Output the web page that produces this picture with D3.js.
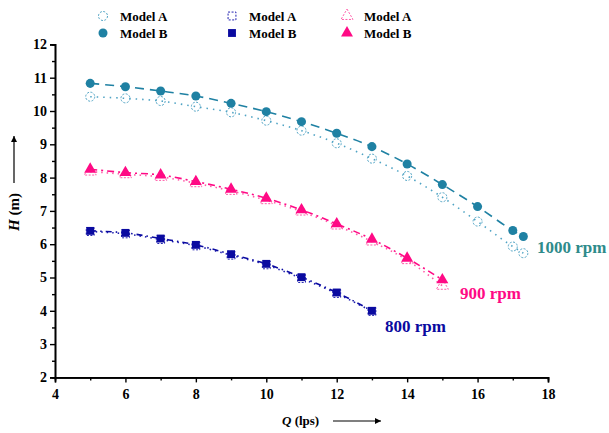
<!DOCTYPE html>
<html>
<head>
<meta charset="utf-8">
<script src="https://cdn.jsdelivr.net/npm/d3@7"></script>
<style>
  body { margin: 0; background: #fff; }
  text { font-family: "Liberation Serif", "Times New Roman", serif; font-weight: bold; }
</style>
</head>
<body>
<script>
// Q (lps) values for each speed
var q1000 = [5, 6, 7, 8, 9, 10, 11, 12, 13, 14, 15, 16, 17, 17.3];
var q900 = [5, 6, 7, 8, 9, 10, 11, 12, 13, 14, 15];
var q800 = [5, 6, 7, 8, 9, 10, 11, 12, 13];

// H (m) values
var h1000A = [10.43, 10.38, 10.3, 10.13, 9.96, 9.71, 9.41, 9.03, 8.57, 8.05, 7.41, 6.68, 5.93, 5.73];
var h1000B = [10.83, 10.73, 10.6, 10.45, 10.23, 9.98, 9.68, 9.33, 8.93, 8.41, 7.79, 7.13, 6.41, 6.23];
var h900A = [8.18, 8.1, 8.02, 7.83, 7.6, 7.32, 6.98, 6.56, 6.08, 5.52, 4.75];
var h900B = [8.25, 8.15, 8.08, 7.88, 7.65, 7.38, 7.03, 6.61, 6.15, 5.58, 4.93];
var h800A = [6.38, 6.31, 6.14, 5.95, 5.67, 5.38, 4.97, 4.52, 3.98];
var h800B = [6.4, 6.34, 6.17, 5.98, 5.7, 5.41, 5.01, 4.55, 4.0];

var xTicks = [4, 6, 8, 10, 12, 14, 16, 18];
var yTicks = [2, 3, 4, 5, 6, 7, 8, 9, 10, 11, 12];
var speedLabels = ["1000 rpm", "900 rpm", "800 rpm"];
var legendLabels = ["Model A", "Model B"];

var width = 609, height = 433;

var svg = d3.select("body").append("svg")
  .attr("width", width)
  .attr("height", height);

var x = d3.scaleLinear().domain([4, 18]).range([55, 548]);
var y = d3.scaleLinear().domain([2, 12]).range([377.4, 44.4]);

// axes
var xAxis = svg.append("g")
  .attr("transform", "translate(0," + y(2) + ")")
  .call(d3.axisBottom(x).tickValues(xTicks).tickSize(5).tickPadding(7).tickFormat(d3.format("d")));
var xMinor = svg.append("g")
  .attr("transform", "translate(0," + y(2) + ")")
  .call(d3.axisBottom(x).tickValues(d3.range(5, 18, 2)).tickSize(3).tickFormat(""));
var yAxis = svg.append("g")
  .attr("transform", "translate(" + x(4) + ",0)")
  .call(d3.axisLeft(y).tickValues(yTicks).tickSize(5).tickPadding(3).tickFormat(d3.format("d")));
var yMinor = svg.append("g")
  .attr("transform", "translate(" + x(4) + ",0)")
  .call(d3.axisLeft(y).tickValues(d3.range(2.5, 12, 1)).tickSize(3).tickFormat(""));

[xAxis, xMinor, yAxis, yMinor].forEach(function(g) {
  g.select(".domain").attr("stroke", "black").attr("stroke-width", 1.6);
  g.selectAll(".tick line").attr("stroke", "black").attr("stroke-width", 1.4);
  g.selectAll(".tick text")
    .attr("font-family", "Liberation Serif")
    .attr("font-weight", "bold")
    .attr("font-size", 14)
    .attr("fill", "black");
});

// series
var series = [
  {q: q1000, h: h1000A, color: "#4fa3c4", dash: "1.5,5", shape: "circle", fill: false},
  {q: q1000, h: h1000B, color: "#1f81a3", dash: "9,6", shape: "circle", fill: true},
  {q: q900, h: h900A, color: "#ff5aa8", dash: "1.5,4", shape: "triangle", fill: false},
  {q: q900, h: h900B, color: "#ff0a85", dash: "7,4,2,4", shape: "triangle", fill: true},
  {q: q800, h: h800A, color: "#2020b0", dash: "1.5,4", shape: "square", fill: false},
  {q: q800, h: h800B, color: "#0a0aa0", dash: "6,4,1.5,4", shape: "square", fill: true}
];

var line = d3.line()
  .x(function(d) { return x(d[0]); })
  .y(function(d) { return y(d[1]); })
  .curve(d3.curveMonotoneX);

function symbolType(s) {
  if (s == "circle") return d3.symbolCircle;
  if (s == "triangle") return d3.symbolTriangle;
  return d3.symbolSquare;
}
function symbolSize(s) {
  if (s == "circle") return 64;
  if (s == "triangle") return 62;
  return 62;
}

function drawMarker(g, s, cx, cy) {
  var p = g.append("path")
    .attr("d", d3.symbol().type(symbolType(s.shape)).size(symbolSize(s.shape))())
    .attr("transform", "translate(" + cx + "," + cy + ")");
  if (s.fill) {
    p.attr("fill", s.color).attr("stroke", "none");
  } else {
    p.attr("fill", "none").attr("stroke", s.color).attr("stroke-width", 1)
     .attr("stroke-dasharray", "2,1.5");
  }
}

series.forEach(function(s) {
  var pts = s.q.map(function(q, i) { return [q, s.h[i]]; });
  svg.append("path")
    .datum(pts)
    .attr("d", line)
    .attr("fill", "none")
    .attr("stroke", s.color)
    .attr("stroke-width", 1.6)
    .attr("stroke-dasharray", s.dash);
});

series.forEach(function(s) {
  var g = svg.append("g");
  s.q.forEach(function(q, i) { drawMarker(g, s, x(q), y(s.h[i])); });
});

// speed labels at end of each curve
var labelColors = ["#2e8b8b", "#ff0a85", "#0a0aa0"];
var labelPos = [[537, 253], [460, 299], [385, 332]];
speedLabels.forEach(function(t, i) {
  svg.append("text")
    .attr("x", labelPos[i][0])
    .attr("y", labelPos[i][1])
    .attr("font-size", 17)
    .attr("fill", labelColors[i])
    .text(t);
});

// legend
var legendCols = [[0, 1], [4, 5], [2, 3]];
var colX = [103, 232, 347];
var rowY = [16, 33];
legendCols.forEach(function(pair, c) {
  pair.forEach(function(si, r) {
    var g = svg.append("g");
    drawMarker(g, series[si], colX[c], rowY[r]);
    svg.append("text")
      .attr("x", colX[c] + 17)
      .attr("y", rowY[r] + 4.5)
      .attr("font-size", 13)
      .attr("fill", "black")
      .text(legendLabels[r]);
  });
});

// axis titles
var xt = svg.append("text")
  .attr("x", 282)
  .attr("y", 425)
  .attr("font-size", 13)
  .attr("fill", "black");
xt.append("tspan").attr("font-style", "italic").text("Q");
xt.append("tspan").text(" (lps)");

svg.append("defs").append("marker")
  .attr("id", "arrow")
  .attr("viewBox", "0 0 10 10")
  .attr("refX", 10).attr("refY", 5)
  .attr("markerWidth", 9).attr("markerHeight", 6)
  .attr("markerUnits", "userSpaceOnUse")
  .attr("orient", "auto")
  .append("path")
  .attr("d", "M0,0L10,5L0,10Z")
  .attr("fill", "black");

svg.append("line")
  .attr("x1", 333).attr("y1", 421).attr("x2", 381).attr("y2", 421)
  .attr("stroke", "black").attr("stroke-width", 1.2)
  .attr("marker-end", "url(#arrow)");

var yt = svg.append("text")
  .attr("transform", "translate(19,212) rotate(-90)")
  .attr("text-anchor", "middle")
  .attr("font-size", 15)
  .attr("fill", "black");
yt.append("tspan").attr("font-style", "italic").text("H");
yt.append("tspan").text(" (m)");

svg.append("line")
  .attr("x1", 14).attr("y1", 183).attr("x2", 14).attr("y2", 136)
  .attr("stroke", "black").attr("stroke-width", 1.2)
  .attr("marker-end", "url(#arrow)");
</script>
</body>
</html>
